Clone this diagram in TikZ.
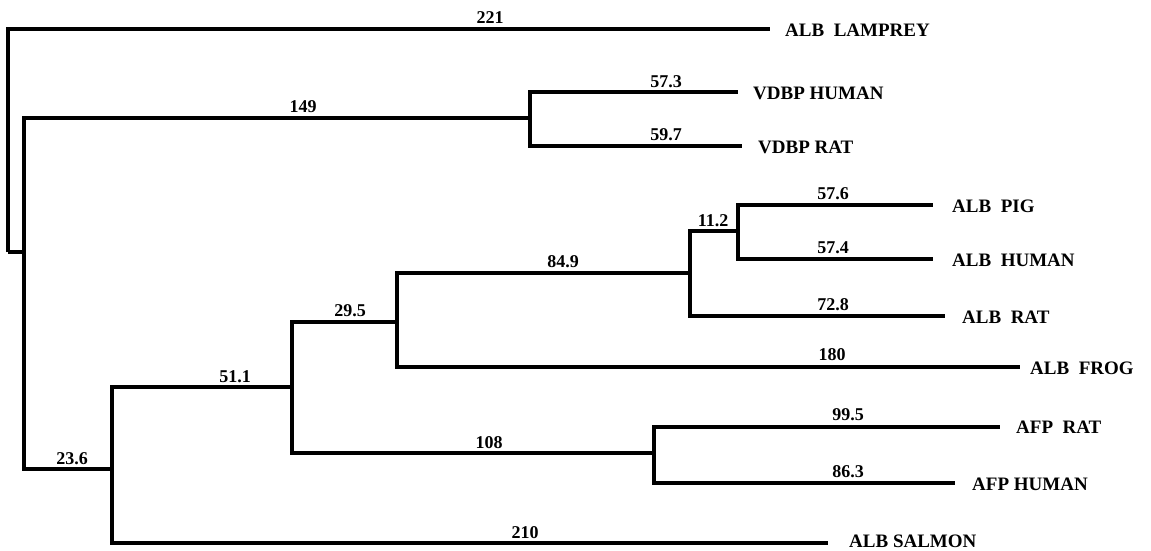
\documentclass[tikz,border=0pt]{standalone}
\usepackage{fontspec}
\setmainfont{Liberation Serif}
\begin{document}
\begin{tikzpicture}[x=1pt,y=-1pt,
  br/.style={line width=3.3pt,line join=miter},
  num/.style={font=\bfseries\fontsize{18}{20}\selectfont,anchor=base,inner sep=0pt},
  leaf/.style={font=\bfseries\fontsize{19}{21}\selectfont,anchor=west,inner sep=0pt}]
\useasboundingbox (0,0) rectangle (1151,550);
% internal nodes
\coordinate (root) at (8,252);
\coordinate (n1) at (24,252);
\coordinate (nV) at (530,118);
\coordinate (n2) at (112,469);
\coordinate (n3) at (292,387);
\coordinate (n4) at (397,322);
\coordinate (n5) at (690,273);
\coordinate (n6) at (738,231);
\coordinate (nA) at (654,453);
% leaf ends
\coordinate (lLamp) at (770,29);
\coordinate (lVH) at (738,92);
\coordinate (lVR) at (742,146);
\coordinate (lPig) at (933,205);
\coordinate (lHum) at (933,259);
\coordinate (lRat) at (945,316);
\coordinate (lFrog) at (1020,367);
\coordinate (lAR) at (1000,427);
\coordinate (lAH) at (955,483);
\coordinate (lSal) at (828,543);
% branches
\draw[br] (root) |- (lLamp);
\draw[br] (root) -- (n1);
\draw[br] (n1) |- (nV);
\draw[br] (n1) |- (n2);
\draw[br] (nV) |- (lVH);
\draw[br] (nV) |- (lVR);
\draw[br] (n2) |- (n3);
\draw[br] (n2) |- (lSal);
\draw[br] (n3) |- (n4);
\draw[br] (n3) |- (nA);
\draw[br] (n4) |- (n5);
\draw[br] (n4) |- (lFrog);
\draw[br] (n5) |- (n6);
\draw[br] (n5) |- (lRat);
\draw[br] (n6) |- (lPig);
\draw[br] (n6) |- (lHum);
\draw[br] (nA) |- (lAR);
\draw[br] (nA) |- (lAH);
% branch lengths
\node[num] (b221) at (490,23) {221};
\node[num] (b149) at (303,112) {149};
\node[num] (b573) at (666,87) {57.3};
\node[num] (b597) at (666,140) {59.7};
\node[num] (b236) at (72,464) {23.6};
\node[num] (b511) at (235,382) {51.1};
\node[num] (b210) at (525,538) {210};
\node[num] (b295) at (350,316) {29.5};
\node[num] (b108) at (489,448) {108};
\node[num] (b849) at (563,267) {84.9};
\node[num] (b180) at (832,360) {180};
\node[num] (b112) at (713,226) {11.2};
\node[num] (b728) at (833,310) {72.8};
\node[num] (b576) at (833,199) {57.6};
\node[num] (b574) at (833,253) {57.4};
\node[num] (b995) at (848,420) {99.5};
\node[num] (b863) at (848,477) {86.3};
% leaf labels
\node[leaf] (tLamp) at (785,30) {ALB\ \ LAMPREY};
\node[leaf] (tVH) at (753,93) {VDBP HUMAN};
\node[leaf] (tVR) at (758,147) {VDBP RAT};
\node[leaf] (tPig) at (952,206) {ALB\ \ PIG};
\node[leaf] (tHum) at (952,260) {ALB\ \ HUMAN};
\node[leaf] (tRat) at (962,317) {ALB\ \ RAT};
\node[leaf] (tFrog) at (1030,368) {ALB\ \ FROG};
\node[leaf] (tAR) at (1016,427) {AFP\ \ RAT};
\node[leaf] (tAH) at (972,484) {AFP HUMAN};
\node[leaf] (tSal) at (849,541) {ALB SALMON};
\end{tikzpicture}
\end{document}
